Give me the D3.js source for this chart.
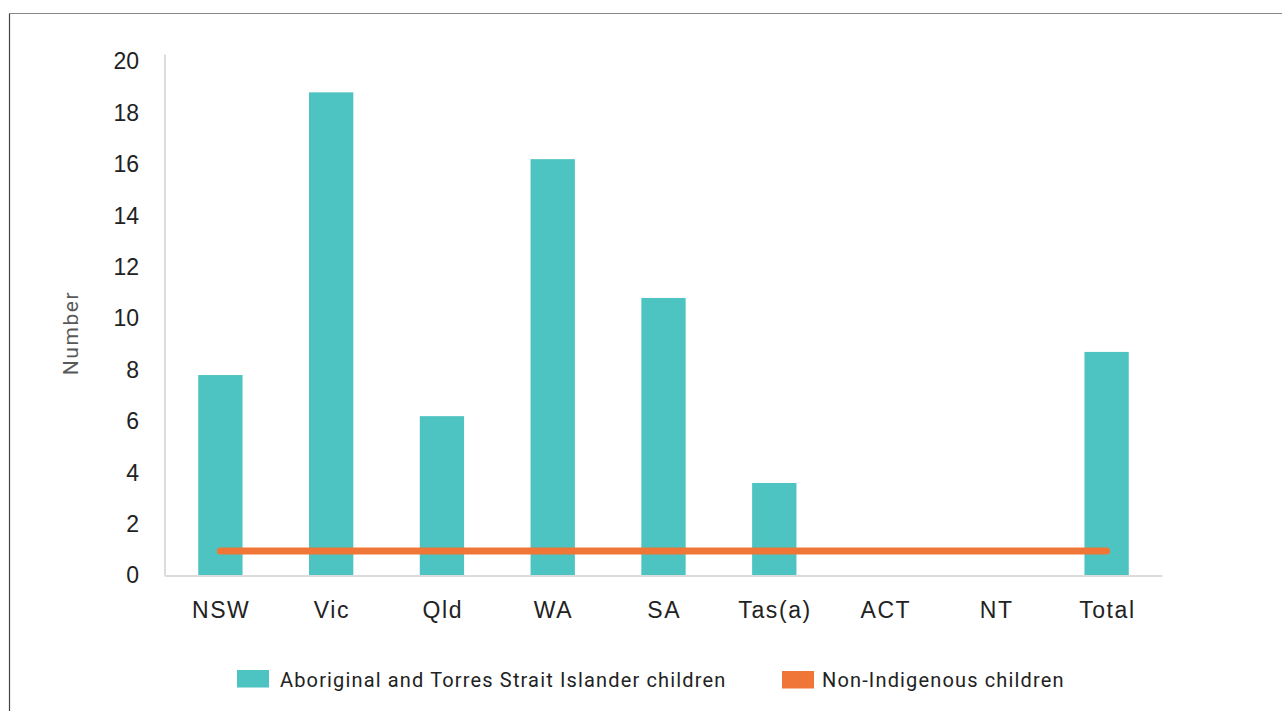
<!DOCTYPE html>
<html>
<head>
<meta charset="utf-8">
<script src="https://cdn.jsdelivr.net/npm/d3@7"></script>
<style>
  body { margin: 0; background: #fff; }
  svg { display: block; font-family: Roboto, "Noto Sans", sans-serif; }
</style>
</head>
<body>
<div id="chart"></div>
<script>
// categories and values
let states = ["NSW", "Vic", "Qld", "WA", "SA", "Tas(a)", "ACT", "NT", "Total"];
let indigenous = [7.8, 18.8, 6.2, 16.2, 10.8, 3.6, 0, 0, 8.7];
let nonIndigenous = [0.95, 0.95, 0.95, 0.95, 0.95, 0.95, 0.95, 0.95, 0.95];
let yTicks = [0, 2, 4, 6, 8, 10, 12, 14, 16, 18, 20];
let seriesNames = ["Aboriginal and Torres Strait Islander children", "Non-Indigenous children"];
let colors = ["#4dc4c1", "#f07637"];

function drawChart() {
  let W = 1282, H = 711;
  let margin = { top: 61.5, left: 165, right: 120, bottom: 135.5 };
  let width = W - margin.left - margin.right,
    height = H - margin.top - margin.bottom;

  let svg = d3.select("#chart").append("svg")
    .attr("width", W)
    .attr("height", H);

  // outer frame (only top and left edges show)
  svg.append("line")
    .attr("x1", 9.5).attr("x2", W).attr("y1", 13.5).attr("y2", 13.5)
    .style("stroke", "#888").style("stroke-width", 1.2);
  svg.append("line")
    .attr("x1", 9.5).attr("x2", 9.5).attr("y1", 13.5).attr("y2", H)
    .style("stroke", "#444").style("stroke-width", 1.2);

  let g = svg.append("g")
    .attr("transform", "translate(" + margin.left + "," + margin.top + ")");

  let x = d3.scaleBand()
    .domain(states)
    .range([0, width])
    .paddingInner(0.6)
    .paddingOuter(0.3);
  let y = d3.scaleLinear()
    .domain([0, 20])
    .range([height, 0]);

  // y axis: labels only, plus a light line
  let yAxis = g.append("g")
    .call(d3.axisLeft(y).tickValues(yTicks).tickSize(0).tickPadding(26));
  yAxis.select(".domain").remove();
  yAxis.selectAll("text")
    .style("font-size", "23px")
    .style("fill", "#222");
  g.append("line")
    .attr("x1", 0).attr("x2", 0)
    .attr("y1", -7).attr("y2", height + 1)
    .style("stroke", "#dcdcdc").style("stroke-width", 2);

  // bars
  g.selectAll(".bar")
    .data(indigenous)
    .enter()
    .append("rect")
    .attr("class", "bar")
    .attr("x", (d, i) => x(states[i]))
    .attr("width", x.bandwidth())
    .attr("y", d => y(d))
    .attr("height", d => height - y(d))
    .style("fill", colors[0]);

  // x axis
  let xAxis = g.append("g")
    .attr("transform", "translate(0," + height + ")")
    .call(d3.axisBottom(x).tickSize(0).tickPadding(26));
  xAxis.select(".domain")
    .style("stroke", "#dcdcdc").style("stroke-width", 2);
  xAxis.selectAll("text")
    .style("font-size", "23px")
    .style("letter-spacing", "1.6px")
    .attr("dx", "0.8px")
    .style("fill", "#222");

  // non-Indigenous line
  let line = d3.line()
    .x((d, i) => x(states[i]) + x.bandwidth() / 2)
    .y(d => y(d));
  g.append("path")
    .datum(nonIndigenous)
    .attr("d", line)
    .style("fill", "none")
    .style("stroke", colors[1])
    .style("stroke-width", 7)
    .style("stroke-linecap", "round");

  // y axis title
  svg.append("text")
    .attr("transform", "translate(78,333) rotate(-90)")
    .attr("text-anchor", "middle")
    .style("font-size", "21px")
    .style("letter-spacing", "1.6px")
    .style("fill", "#595959")
    .text("Number");

  // legend
  let legendX = [237, 782];
  let legend = svg.selectAll(".legend")
    .data(seriesNames)
    .enter()
    .append("g")
    .attr("class", "legend")
    .attr("transform", (d, i) => "translate(" + legendX[i] + ",670)");
  legend.append("rect")
    .attr("width", 32)
    .attr("height", 17.5)
    .attr("y", (d, i) => i)
    .style("fill", (d, i) => colors[i]);
  legend.append("text")
    .attr("x", (d, i) => (i ? 40 : 43))
    .attr("y", 16.5)
    .style("font-size", "20px")
    .style("letter-spacing", "1.15px")
    .style("fill", "#222")
    .text(d => d);
}
drawChart();
</script>
</body>
</html>
